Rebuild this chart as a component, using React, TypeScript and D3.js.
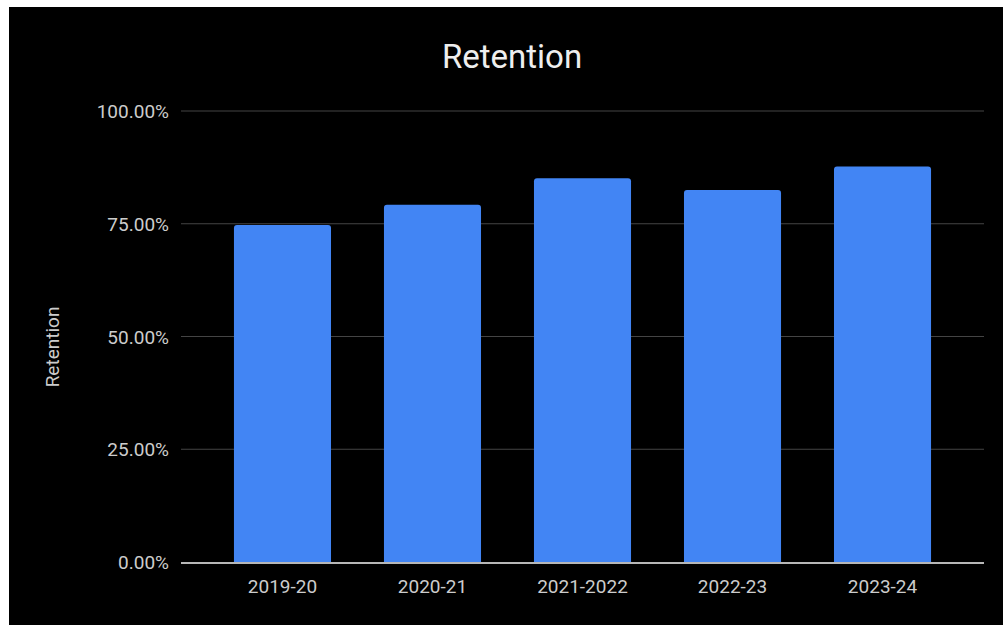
import React from "react";
import * as d3 from "d3";

const categories = ["2019-20", "2020-21", "2021-2022", "2022-23", "2023-24"];
const retention = [0.747, 0.792, 0.851, 0.825, 0.877];
const yTicks = [0, 0.25, 0.5, 0.75, 1];

const W = 1003;
const H = 625;
const plotLeft = 181;
const plotRight = 984;
const plotTop = 111;
const plotBottom = 562;
const font = "Roboto, 'Noto Sans', sans-serif";

function topRoundedBar(x: number, y: number, w: number, h: number, r: number) {
  const rr = Math.min(r, h, w / 2);
  return `M${x},${y + h} L${x},${y + rr} Q${x},${y} ${x + rr},${y} L${x + w - rr},${y} Q${x + w},${y} ${x + w},${y + rr} L${x + w},${y + h} Z`;
}

export default function App() {
  const x = d3.scaleBand<string>().domain(categories).range([plotLeft, plotRight]).paddingInner(0.353).paddingOuter(0.353);
  const y = d3.scaleLinear().domain([0, 1]).range([plotBottom, plotTop]);
  const fmt = d3.format(".2%");
  return (
    <svg width={W} height={H} style={{ position: "absolute", left: 0, top: 0, display: "block" }}>
      <rect x={0} y={0} width={W} height={H} fill="#ffffff" />
      <rect x={9} y={7} width={W - 9} height={H - 7} fill="#000000" />
      <text x={512} y={68} textAnchor="middle" fill="#eeeeee" fontFamily={font} fontSize={33}>
        Retention
      </text>
      {yTicks.map((t) => (
        <g key={t}>
          {t !== 0 && (
            <line x1={plotLeft} x2={plotRight} y1={y(t)} y2={y(t)} stroke="#444444" strokeWidth={1} />
          )}
          <text x={169} y={y(t) + 7} textAnchor="end" fill="#cccccc" fontFamily={font} fontSize={19}>
            {fmt(t)}
          </text>
        </g>
      ))}
      {categories.map((c, i) => {
        const bx = x(c)!;
        const by = y(retention[i]);
        return (
          <path
            key={c}
            d={topRoundedBar(bx, by, x.bandwidth(), plotBottom - by, 3)}
            fill="#4285f4"
          />
        );
      })}
      <line x1={plotLeft} x2={plotRight} y1={plotBottom + 1} y2={plotBottom + 1} stroke="#b7b7b7" strokeWidth={2} />
      {categories.map((c) => (
        <text key={c} x={x(c)! + x.bandwidth() / 2} y={593} textAnchor="middle" fill="#cccccc" fontFamily={font} fontSize={19}>
          {c}
        </text>
      ))}
      <text
        transform={`translate(59,347) rotate(-90)`}
        textAnchor="middle"
        fill="#cccccc"
        fontFamily={font}
        fontSize={19}
      >
        Retention
      </text>
    </svg>
  );
}
